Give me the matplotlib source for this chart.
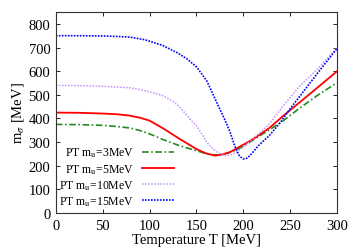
import matplotlib
matplotlib.use('Agg')
import matplotlib.pyplot as plt

plt.rcParams['font.family'] = ['Liberation Serif', 'DejaVu Serif']
plt.rcParams['mathtext.fontset'] = 'stix'
plt.rcParams['font.size'] = 10.5

# values
t_3 = [0, 25, 50, 65, 79, 90, 100, 115, 132, 150, 164, 175, 184, 193, 204, 214, 228, 243, 260, 279, 300]
m_3 = [375, 374, 371, 366, 360, 349, 335, 310, 285, 264, 247, 246, 254, 268, 292, 318, 352, 391, 443, 497, 551]

t_5 = [0, 25, 50, 65, 79, 90, 100, 115, 132, 142, 150, 160, 170, 178, 186, 196, 205, 214, 228, 243, 270, 300]
m_5 = [425, 424, 421, 418, 412, 403, 391, 357, 314, 290, 271, 253, 243, 248, 258, 280, 300, 322, 360, 412, 500, 599]

t_10 = [0, 25, 50, 79, 95, 114, 125, 132, 143, 150, 155, 161, 166, 172, 177, 182, 187, 193, 198, 204,
        215, 228, 243, 261, 278, 290, 300]
m_10 = [540, 539, 536, 530, 518, 497, 472, 450, 398, 370, 340, 300, 278, 258, 247, 243, 247, 258, 273, 292,
        330, 377, 455, 540, 604, 655, 698]

t_15 = [0, 25, 50, 65, 79, 95, 114, 130, 140, 150, 161, 168, 175, 180, 186, 190, 193, 196, 200, 204, 207,
        211, 215, 221, 228, 240, 250, 261, 280, 300]
m_15 = [750, 750, 749, 747, 744, 733, 709, 677, 652, 619, 560, 500, 440, 398, 343, 295, 264, 242, 229, 232, 243,
        260, 280, 303, 328, 385, 441, 497, 595, 695]

labels = [r'PT m$_\mathrm{u}$=3MeV', r'PT m$_\mathrm{u}$=5MeV',
          r'PT m$_\mathrm{u}$=10MeV', r'PT m$_\mathrm{u}$=15MeV']

fig = plt.figure(figsize=(3.58, 2.51), dpi=100)
ax = fig.add_axes([0.156, 0.147, 0.785, 0.801])

ax.plot(t_3, m_3, color='#228b22', linestyle=(0, (4, 1.5, 1, 1.5)), lw=1.2, label=labels[0])
ax.plot(t_5, m_5, color='#ff0000', linestyle='-', lw=1.3, label=labels[1])
ax.plot(t_10, m_10, color='#c090ff', linestyle=(0, (1, 1)), lw=1.1, label=labels[2])
ax.plot(t_15, m_15, color='#0000ff', linestyle=(0, (1, 0.8)), lw=1.2, label=labels[3])

ax.set_xlim(0, 300)
ax.set_ylim(0, 850)
ax.set_xticks([0, 50, 100, 150, 200, 250, 300])
ax.set_yticks([0, 100, 200, 300, 400, 500, 600, 700, 800])
ax.tick_params(direction='in', top=True, right=True, length=3, width=0.6, pad=4)
for s in ax.spines.values():
    s.set_linewidth(0.8)
    s.set_color('#333333')

ax.set_xlabel('Temperature T [MeV]', labelpad=1)
ax.set_ylabel(r'm$_\sigma$ [MeV]', labelpad=2)

leg = ax.legend(loc='lower right', bbox_to_anchor=(0.44, 0.0), frameon=False, markerfirst=False,
                handlelength=2.7, handletextpad=0.7, labelspacing=0.22, fontsize=8.5,
                borderaxespad=0.1, borderpad=0.35)

fig.savefig('out.png', dpi=100)
